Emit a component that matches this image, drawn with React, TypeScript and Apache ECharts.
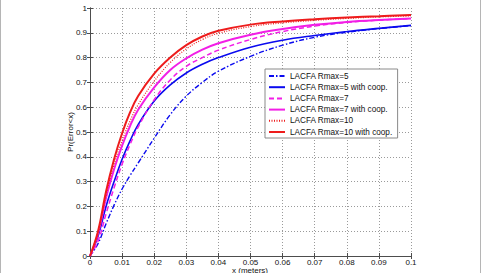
import React, { useEffect, useRef } from "react";
import * as echarts from "echarts";

// Localization error (metres) at which each CDF is sampled
const errorX = [
  0, 0.0025, 0.005, 0.0075, 0.01, 0.0125, 0.015, 0.02, 0.025, 0.03, 0.035,
  0.04, 0.05, 0.06, 0.07, 0.08, 0.09, 0.1,
];

// Pr(Error < x) for each scheme
const rmax5 = [
  0, 0.05, 0.13, 0.205, 0.27, 0.325, 0.375, 0.475, 0.57, 0.645, 0.7, 0.745,
  0.805, 0.85, 0.882, 0.902, 0.917, 0.929,
];
const rmax5Coop = [
  0, 0.08, 0.2, 0.3, 0.39, 0.465, 0.53, 0.625, 0.69, 0.738, 0.773, 0.8, 0.842,
  0.87, 0.889, 0.905, 0.918, 0.93,
];
const rmax7 = [
  0, 0.06, 0.17, 0.275, 0.37, 0.45, 0.52, 0.63, 0.71, 0.765, 0.8, 0.83, 0.873,
  0.905, 0.927, 0.942, 0.951, 0.957,
];
const rmax7Coop = [
  0, 0.09, 0.235, 0.35, 0.445, 0.525, 0.59, 0.68, 0.75, 0.797, 0.832, 0.858,
  0.892, 0.915, 0.932, 0.944, 0.952, 0.958,
];
const rmax10 = [
  0, 0.09, 0.245, 0.37, 0.465, 0.545, 0.61, 0.705, 0.78, 0.835, 0.873, 0.898,
  0.925, 0.94, 0.95, 0.958, 0.964, 0.968,
];
const rmax10Coop = [
  0, 0.1, 0.26, 0.39, 0.495, 0.58, 0.645, 0.735, 0.8, 0.85, 0.885, 0.908,
  0.933, 0.946, 0.955, 0.962, 0.967, 0.972,
];

const seriesNames = [
  "LACFA Rmax=5",
  "LACFA Rmax=5 with coop.",
  "LACFA Rmax=7",
  "LACFA Rmax=7 with coop.",
  "LACFA Rmax=10",
  "LACFA Rmax=10 with coop.",
];

const xTickLabels = [
  "0", "0.01", "0.02", "0.03", "0.04", "0.05", "0.06", "0.07", "0.08", "0.09", "0.1",
];
const yTickLabels = [
  "0", "0.1", "0.2", "0.3", "0.4", "0.5", "0.6", "0.7", "0.8", "0.9", "1",
];

const FONT = "Liberation Sans, Arial, Helvetica, sans-serif";
const BLUE = "#0a0aef";
const MAGENTA = "#f21ee6";
const RED = "#ee1c1c";

export default function App() {
  const ref = useRef<HTMLDivElement>(null);

  useEffect(() => {
    if (!ref.current) return;
    const chart = echarts.init(ref.current, undefined, { renderer: "svg" });

    const pairs = (ys: number[]) => errorX.map((x, i) => [x, ys[i]]);
    const mk = (
      name: string,
      ys: number[],
      color: string,
      width: number,
      type: any
    ) => ({
      name,
      type: "line",
      data: pairs(ys),
      showSymbol: false,
      symbol: "none",
      smooth: 0.4,
      lineStyle: { color, width, type },
      itemStyle: { color },
    });

    const axisLine = { show: true, lineStyle: { color: "#4d4d4d", width: 1 } };
    const tick = {
      show: true,
      inside: true,
      length: 3,
      lineStyle: { color: "#4d4d4d" },
    };
    const gridLine = {
      show: true,
      lineStyle: { color: "#9a9a9a", width: 1, type: [1, 2] },
    };
    const labelStyle = { fontFamily: FONT, fontSize: 8, color: "#111" };

    chart.setOption({
      animation: false,
      backgroundColor: "#ffffff",
      grid: { left: 90, right: 71, top: 8, bottom: 17, containLabel: false },
      xAxis: [
        {
          type: "value",
          min: 0,
          max: 0.1,
          interval: 0.01,
          axisLine,
          axisTick: tick,
          splitLine: gridLine,
          axisLabel: {
            ...labelStyle,
            margin: 2,
            formatter: (v: number) => xTickLabels[Math.round(v / 0.01)] ?? "",
          },
        },
        {
          type: "value",
          position: "top",
          min: 0,
          max: 0.1,
          interval: 0.01,
          axisLine,
          axisTick: tick,
          splitLine: { show: false },
          axisLabel: { show: false },
        },
      ],
      yAxis: [
        {
          type: "value",
          min: 0,
          max: 1,
          interval: 0.1,
          axisLine,
          axisTick: tick,
          splitLine: gridLine,
          axisLabel: {
            ...labelStyle,
            margin: 3,
            formatter: (v: number) => yTickLabels[Math.round(v / 0.1)] ?? "",
          },
        },
        {
          type: "value",
          position: "right",
          min: 0,
          max: 1,
          interval: 0.1,
          axisLine,
          axisTick: tick,
          splitLine: { show: false },
          axisLabel: { show: false },
        },
      ],
      legend: {
        orient: "vertical",
        left: 265,
        top: 69,
        padding: [3, 5, 2, 3],
        itemGap: 3.2,
        itemWidth: 16,
        itemHeight: 8,
        // line samples only, no marker on top of them
        itemStyle: { opacity: 0 },
        backgroundColor: "#ffffff",
        borderColor: "#8a8a8a",
        borderWidth: 1,
        borderRadius: 0,
        textStyle: { fontFamily: FONT, fontSize: 8.2, color: "#111" },
        data: seriesNames,
      },
      series: [
        mk(seriesNames[0], rmax5, BLUE, 1.4, [5, 2, 1.5, 2]),
        mk(seriesNames[1], rmax5Coop, BLUE, 1.6, "solid"),
        mk(seriesNames[2], rmax7, MAGENTA, 1.5, [5, 3]),
        mk(seriesNames[3], rmax7Coop, MAGENTA, 2, "solid"),
        mk(seriesNames[4], rmax10, RED, 1.2, [1, 1.5]),
        mk(seriesNames[5], rmax10Coop, RED, 2, "solid"),
      ],
      graphic: [
        {
          type: "text",
          x: 70,
          y: 132,
          rotation: Math.PI / 2,
          style: {
            text: "Pr(Error<x)",
            fontFamily: FONT,
            fontSize: 8,
            fill: "#111",
            align: "center",
            verticalAlign: "middle",
          },
        },
        {
          type: "text",
          x: 250,
          y: 266,
          style: {
            text: "x (meters)",
            fontFamily: FONT,
            fontSize: 8,
            fill: "#111",
            align: "center",
            verticalAlign: "top",
          },
        },
        {
          type: "rect",
          shape: { x: 0.5, y: -2, width: 480, height: 278 },
          style: { fill: "none", stroke: "#b5b5b5", lineWidth: 1 },
          silent: true,
        },
      ],
    });

    return () => chart.dispose();
  }, []);

  return (
    <div
      ref={ref}
      style={{ position: "fixed", left: 0, top: 0, width: 482, height: 273 }}
    />
  );
}
